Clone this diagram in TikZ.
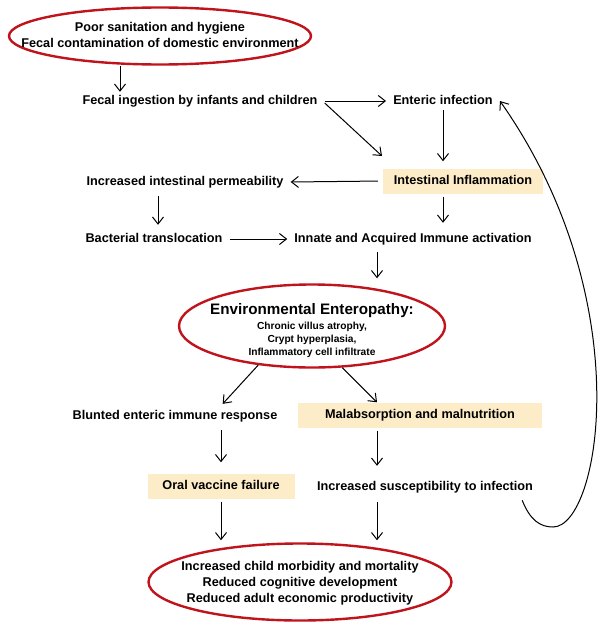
\documentclass[tikz,border=0pt]{standalone}
\usepackage{fontspec}
\setmainfont{Liberation Sans}
\usetikzlibrary{shapes.geometric,arrows.meta}
\definecolor{ovalred}{RGB}{192,20,28}
\definecolor{boxtan}{RGB}{253,236,200}

\begin{document}
\begin{tikzpicture}[x=1pt,y=-1pt,
    txt/.style={font=\fontsize{12.7}{15.5}\selectfont\bfseries,inner xsep=7pt,inner ysep=3pt,text height=9.5pt,text depth=2.5pt},
    tanbox/.style={txt,fill=boxtan,minimum height=25pt},
    oval/.style={ellipse,draw=ovalred,line width=2.4pt,inner sep=0pt},
    ovaltext/.style={align=center,inner sep=0pt,font=\fontsize{12.7}{15.5}\selectfont\bfseries},
    arr/.style={-{Straight Barb[length=7pt,width=11pt]},line width=1pt}]
  \useasboundingbox (0,0) rectangle (603,634);

  % causes
  \node[oval,minimum width=302pt,minimum height=57pt] (top) at (160,36) {};
  \node[ovaltext] (toptext) at (160,35) {Poor sanitation and hygiene\\Fecal contamination of domestic environment};
  \node[txt] (fecal) at (200,101) {Fecal ingestion by infants and children};
  \node[txt] (enteric) at (443,101) {Enteric infection};
  \coordinate (diag) at (382,156);

  % gut
  \node[tanbox,minimum width=160pt] (inflam) at (463,181) {Intestinal Inflammation};
  \node[txt] (perm) at (185,182) {Increased intestinal permeability};
  \node[txt] (bact) at (154,239) {Bacterial translocation};
  \node[txt] (innate) at (413,239) {Innate and Acquired Immune activation};

  \node[oval,minimum width=266pt,minimum height=83pt] (ee) at (312,326) {};
  \node[ovaltext,font=\fontsize{10.2}{13}\selectfont\bfseries] (eetext) at (312,331)
    {{\fontsize{15.2}{18}\selectfont Environmental Enteropathy:}\\[2pt]
     Chronic villus atrophy,\\Crypt hyperplasia,\\Inflammatory cell infiltrate};

  % consequences
  \node[txt] (blunted) at (175,416) {Blunted enteric immune response};
  \node[tanbox,minimum width=244pt] (malab) at (420,415) {Malabsorption and malnutrition};
  \node[tanbox,minimum width=147pt] (oral) at (221,486) {Oral vaccine failure};
  \node[txt] (suscept) at (425,487) {Increased susceptibility to infection};
  \node[oval,minimum width=303pt,minimum height=77pt] (bottom) at (300,582) {};
  \node[ovaltext,font=\fontsize{12.7}{16}\selectfont\bfseries] (bottomtext) at (300,583)
    {Increased child morbidity and mortality\\Reduced cognitive development\\Reduced adult economic productivity};

  \draw[arr] ([xshift=-40pt]top.south) -- ([xshift=-40pt]top.south |- fecal.north);
  \draw[arr] (fecal.east) -- (enteric.west);
  \draw[arr] ([yshift=-2pt]fecal.east) -- (diag);
  \draw[arr,shorten >=7pt] (enteric.south) -- (enteric.south |- inflam.north);
  \draw[arr,shorten <=5pt] (inflam.west) -- (perm.east);
  \draw[arr,shorten <=5pt,shorten >=5pt] ([xshift=4pt]bact.north |- perm.south) -- ([xshift=4pt]bact.north);
  \draw[arr] (bact.east) -- (innate.west);
  \draw[arr,shorten <=3pt,shorten >=7pt] (inflam.south -| enteric.south) -- (innate.north -| enteric.south);
  \draw[arr,shorten <=4pt,shorten >=5pt] ([xshift=-36pt]innate.south) -- ([xshift=-36pt]innate.south |- ee.north);
  \draw[arr,shorten >=4pt] (ee.216) -- ([xshift=45pt]blunted.north);
  \draw[arr] (ee.306) -- ([xshift=-43pt]malab.north);
  \draw[arr,shorten <=5pt,shorten >=11pt] (oral.north |- blunted.south) -- (oral.north);
  \draw[arr,shorten <=3pt,shorten >=12pt] ([xshift=-43pt]malab.south) -- ([xshift=-43pt]malab.south |- suscept.north);
  \draw[arr,shorten <=3pt,shorten >=2pt] (oral.south) -- (oral.south |- bottom.north);
  \draw[arr,shorten <=6pt,shorten >=2pt] ([xshift=-48pt]suscept.south) -- ([xshift=-48pt]suscept.south |- bottom.north);
  \draw[arr] ([xshift=-18pt,yshift=-4pt]suscept.south east) .. controls (530,520) and (540,527) .. (553,527)
    .. controls (600,527) and (640,300) .. (enteric.east);
\end{tikzpicture}
\end{document}
